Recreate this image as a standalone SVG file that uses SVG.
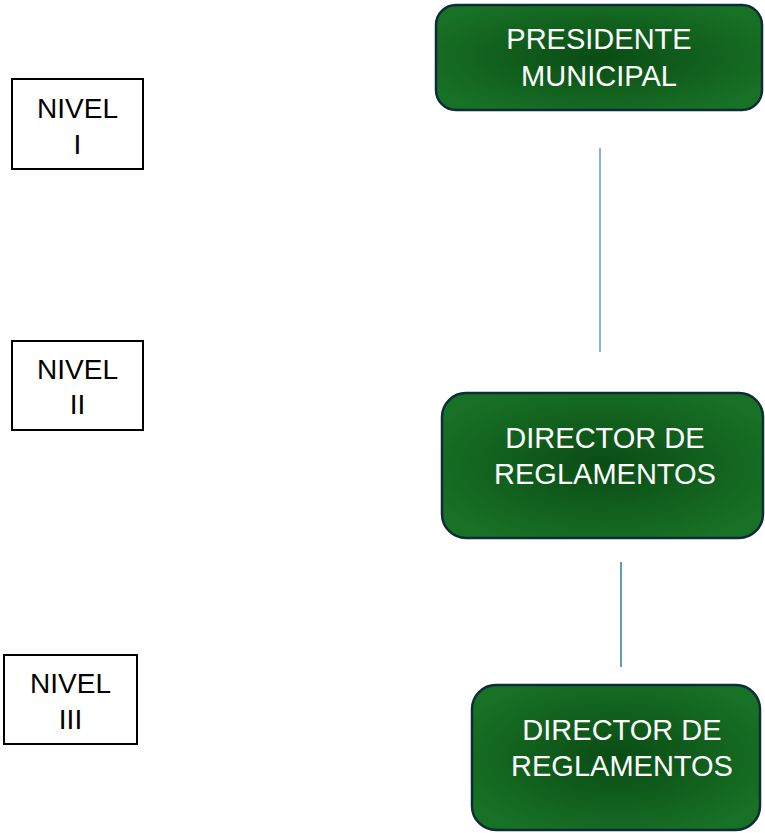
<svg xmlns="http://www.w3.org/2000/svg" width="765" height="833" viewBox="0 0 765 833">
<defs>
<radialGradient id="g" cx="50%" cy="50%" r="60%">
<stop offset="0" stop-color="#0a4c14"/>
<stop offset="1" stop-color="#187226"/>
</radialGradient>
<style>
.n{fill:url(#g);stroke:#0e2b3a;stroke-width:2.5}
.nt{font-family:"Liberation Sans",Arial,sans-serif;font-size:29px;fill:#ffffff;text-anchor:middle}
.lv{fill:#ffffff;stroke:#000000;stroke-width:2}
.lt{font-family:"Liberation Sans",Arial,sans-serif;font-size:28px;fill:#000000;text-anchor:middle}
</style>
</defs>
<rect width="765" height="833" fill="#ffffff"/>
<g id="connectors" stroke-width="1.5">
<line x1="600" y1="148" x2="600" y2="352" stroke="#5e9bb5"/>
<line x1="621" y1="562" x2="621" y2="667" stroke="#2e7ca0"/>
</g>
<g id="presidente">
<rect class="n" x="436" y="5" width="326" height="105" rx="20"/>
<text class="nt" x="599" y="49">PRESIDENTE</text>
<text class="nt" x="599" y="86">MUNICIPAL</text>
</g>
<g id="director1">
<rect class="n" x="442" y="393" width="321" height="145" rx="24"/>
<text class="nt" x="605" y="448">DIRECTOR DE</text>
<text class="nt" x="605" y="484">REGLAMENTOS</text>
</g>
<g id="director2">
<rect class="n" x="472" y="685" width="288" height="145" rx="24"/>
<text class="nt" x="622" y="740">DIRECTOR DE</text>
<text class="nt" x="622" y="776">REGLAMENTOS</text>
</g>
<g id="nivel1">
<rect class="lv" x="12" y="79" width="131" height="90"/>
<text class="lt" x="77.5" y="118">NIVEL</text>
<text class="lt" x="77.5" y="154">I</text>
</g>
<g id="nivel2">
<rect class="lv" x="12" y="341" width="131" height="89"/>
<text class="lt" x="77.5" y="379">NIVEL</text>
<text class="lt" x="77.5" y="414">II</text>
</g>
<g id="nivel3">
<rect class="lv" x="4" y="655" width="133" height="89"/>
<text class="lt" x="70.5" y="693">NIVEL</text>
<text class="lt" x="70.5" y="729">III</text>
</g>
</svg>
